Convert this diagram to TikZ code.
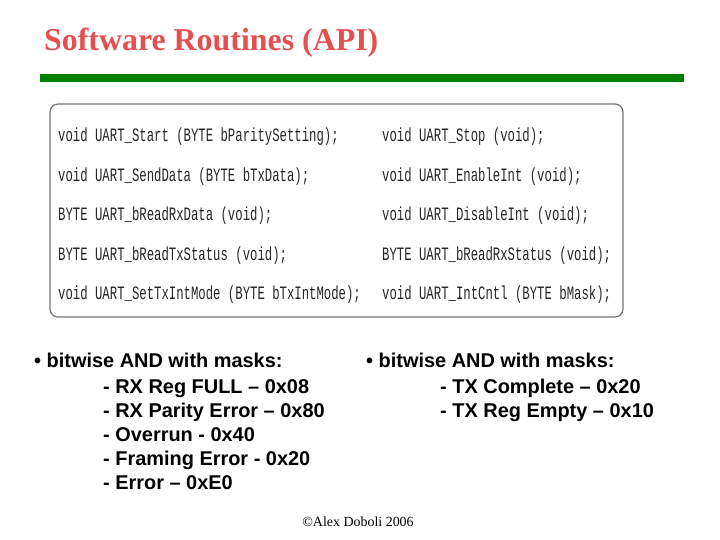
\documentclass[tikz,border=0pt]{standalone}
\usepackage{fontspec}
\usepackage{graphicx}
\setmainfont{Liberation Serif}
\setsansfont{Liberation Sans}
\newfontfamily\codefont{Liberation Mono}
\definecolor{titlered}{RGB}{228,80,80}
\definecolor{bargreen}{RGB}{0,128,0}
\begin{document}
\begin{tikzpicture}[x=1bp,y=-1bp,
  code/.style={anchor=west,inner sep=0,font=\codefont\fontsize{19}{19}\selectfont,text=black!85},
  bul/.style={anchor=base west,inner sep=0,font=\sffamily\bfseries\fontsize{20}{20}\selectfont}]
\useasboundingbox (0,0) rectangle (720,540);
\node[anchor=base west,inner sep=0,text=titlered,font=\bfseries\fontsize{32}{32}\selectfont] (title) at (44,51) {Software Routines (API)};
\fill[bargreen] (40,74) rectangle (684,82);
\draw[black!55,line width=1.2,rounded corners=8] (50,104) rectangle (623,317);
\foreach \t/\y [count=\i] in {{void UART\_Start (BYTE bParitySetting);}/137,{void UART\_SendData (BYTE bTxData);}/177,{BYTE UART\_bReadRxData (void);}/216,{BYTE UART\_bReadTxStatus (void);}/256,{void UART\_SetTxIntMode (BYTE bTxIntMode);}/295}
  \node[code] (l\i) at (58,\y) {\scalebox{0.65}[1]{\t}};
\foreach \t/\y [count=\i] in {{void UART\_Stop (void);}/137,{void UART\_EnableInt (void);}/177,{void UART\_DisableInt (void);}/216,{BYTE UART\_bReadRxStatus (void);}/256,{void UART\_IntCntl (BYTE bMask);}/295}
  \node[code] (r\i) at (382,\y) {\scalebox{0.65}[1]{\t}};
\node[bul] (b1) at (34,367) {\textbullet\ bitwise AND with masks:};
\node[bul] (b1a) at (103,393) {- RX Reg FULL -- 0x08};
\node[bul] (b1b) at (103,417) {- RX Parity Error -- 0x80};
\node[bul] (b1c) at (103,441) {- Overrun - 0x40};
\node[bul] (b1d) at (103,465) {- Framing Error - 0x20};
\node[bul] (b1e) at (103,489) {- Error -- 0xE0};
\node[bul] (b2) at (366,367) {\textbullet\ bitwise AND with masks:};
\node[bul] (b2a) at (440,393) {- TX Complete -- 0x20};
\node[bul] (b2b) at (440,417) {- TX Reg Empty -- 0x10};
\node[anchor=base,inner sep=0,font=\fontsize{14}{14}\selectfont] (foot) at (358,526) {©Alex Doboli 2006};
\end{tikzpicture}
\end{document}
